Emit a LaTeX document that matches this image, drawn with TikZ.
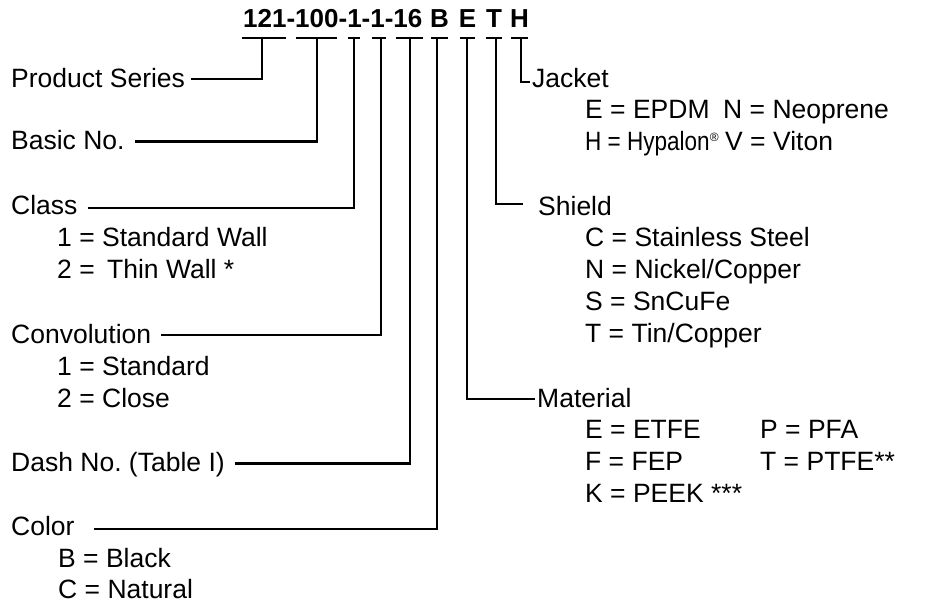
\documentclass[tikz,border=0pt]{standalone}
\usepackage{fontspec}
\setmainfont{Liberation Sans}
\newfontfamily\condfont[FakeStretch=0.85]{Liberation Sans}
\begin{document}
\frenchspacing
\begin{tikzpicture}[x=1pt,y=-1pt,
  lbl/.style={anchor=base west, inner xsep=0pt, inner ysep=0pt, text height=19pt, text depth=3pt, font=\fontsize{26.5}{31}\selectfont},
  ttl/.style={anchor=base, inner xsep=0pt, inner ysep=0pt, font=\fontsize{26}{31}\selectfont\bfseries},
  ln/.style={line width=2.2pt},
  ul/.style={line width=2.2pt}]
\useasboundingbox (0,0) rectangle (925,603);
% title
\node[ttl, anchor=base west] (num) at (243,27.7) {121-100-1-1-16};
\node[ttl] (lB) at (439.5,27.7) {B};
\node[ttl] (lE) at (467.5,27.7) {E};
\node[ttl] (lT) at (494,27.7) {T};
\node[ttl] (lH) at (519.5,27.7) {H};
% underlines
\draw[ul] (242,38) -- (286,38);
\draw[ul] (296,38) -- (337,38);
\draw[ul] (348,38) -- (360,38);
\draw[ul] (372,38) -- (386,38);
\draw[ul] (396,38) -- (423,38);
\draw[ul] (431,38) -- (448,38);
\draw[ul] (460,38) -- (475,38);
\draw[ul] (486,38) -- (502,38);
\draw[ul] (511,38) -- (528,38);
\coordinate (d1) at (262,38);
\coordinate (d2) at (317,38);
\coordinate (d3) at (354,38);
\coordinate (d4) at (381,38);
\coordinate (d5) at (410,38);
\coordinate (d6) at (437,38);
\coordinate (d7) at (467,38);
\coordinate (d8) at (496,38);
\coordinate (d9) at (521,38);
% left labels
\node[lbl] (ps) at (11,87) {Product Series};
\node[lbl] (bn) at (11,149.5) {Basic No.};
\node[lbl] (cl) at (11,214) {Class};
\node[lbl] (cl1) at (57,246) {1 = Standard Wall};
\node[lbl] (cl2) at (57,278) {2 = \hspace{5pt}Thin Wall *};
\node[lbl] (cv) at (11,343) {Convolution};
\node[lbl] (cv1) at (57,375) {1 = Standard};
\node[lbl] (cv2) at (57,407) {2 = Close};
\node[lbl] (dn) at (11,471.5) {Dash No. (Table I)};
\node[lbl] (co) at (11,535.5) {Color};
\node[lbl] (co1) at (58,567) {B = Black};
\node[lbl] (co2) at (58,598.5) {C = Natural};
% right labels
\node[lbl] (jk) at (532,87) {Jacket};
\node[lbl] (jk1) at (585,118) {E = EPDM};
\node[lbl] (jk2) at (585,150) {{\condfont H = Hypalon}\raisebox{9pt}{\fontsize{12}{12}\selectfont ®}};
\node[lbl] (jk3) at (723,118) {N = Neoprene};
\node[lbl] (jk4) at (725,150) {V = Viton};
\node[lbl] (sh) at (538,215.5) {Shield};
\node[lbl] (sh1) at (585,246) {C = Stainless Steel};
\node[lbl] (sh2) at (585,278) {N = Nickel/Copper};
\node[lbl] (sh3) at (585,310) {S = SnCuFe};
\node[lbl] (sh4) at (585,342.5) {T = Tin/Copper};
\node[lbl] (ma) at (537,407) {Material};
\node[lbl] (ma1) at (585,438) {E = ETFE};
\node[lbl] (ma2) at (585,470) {F = FEP};
\node[lbl] (ma3) at (585,502) {K = PEEK ***};
\node[lbl] (ma4) at (760,438) {P = PFA};
\node[lbl] (ma5) at (760,470) {T = PTFE**};
% connectors left
\draw[ln] ([xshift=6pt]ps.east) -| (d1);
\draw[ln] ([xshift=10pt]bn.east) -| (d2);
\draw[ln] ([xshift=10pt,yshift=-2pt]cl.east) -| (d3);
\draw[ln] ([xshift=10pt]cv.east) -| (d4);
\draw[ln] ([xshift=10pt]dn.east) -| (d5);
\draw[ln] ([xshift=19pt,yshift=-1.5pt]co.east) -| (d6);
% connectors right
\draw[ln] (d9) |- ([xshift=-2pt,yshift=-3pt]jk.west);
\draw[ln] (d8) |- ([xshift=-15pt,yshift=3.5pt]sh.west);
\draw[ln] (d7) |- ([xshift=-2pt]ma.west);
\end{tikzpicture}
\end{document}
